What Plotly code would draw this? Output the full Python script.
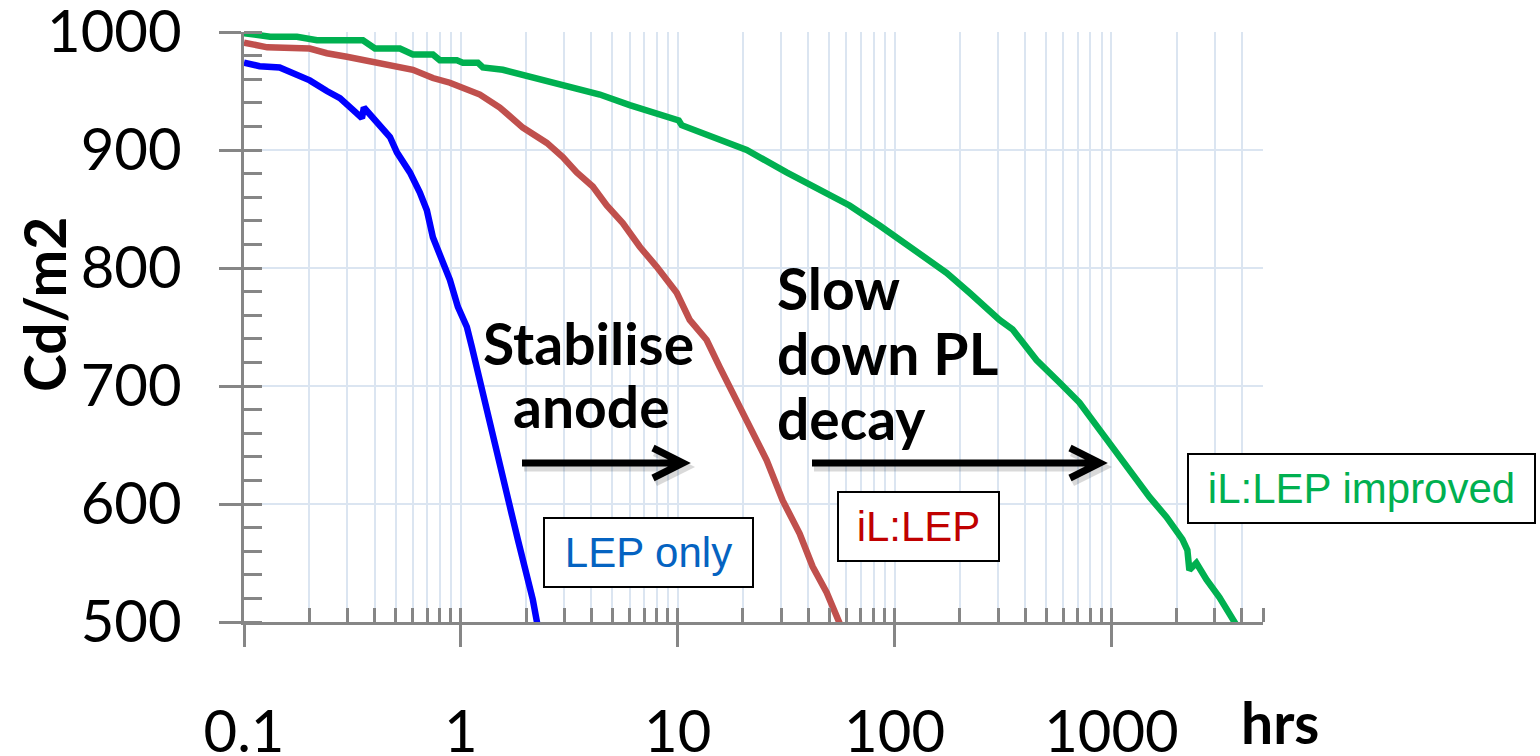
import plotly.graph_objects as go

# ---------------- data ----------------
lep_x = [0.1, 0.118, 0.146, 0.168, 0.201, 0.241, 0.277, 0.318, 0.350, 0.357, 0.393, 0.471,
         0.507, 0.582, 0.647, 0.697, 0.743, 0.826, 0.890, 0.969, 1.066, 1.124, 1.185, 1.250,
         1.361, 1.466, 1.562, 1.682, 1.831, 2.015, 2.147, 2.264]
lep_y = [974, 971, 970, 965, 959, 950, 944, 934, 927, 936, 927, 911,
         898, 881, 864, 849, 826, 804, 790, 767, 750, 733, 716, 694,
         671, 648, 626, 598, 570, 542, 519, 496]

il_x = [0.1, 0.128, 0.201, 0.241, 0.298, 0.354, 0.601, 0.743, 0.890, 1.224, 1.512, 1.931,
        2.491, 2.951, 3.423, 4.058, 4.708, 5.579, 6.683, 8.002, 9.894, 11.36, 13.60, 15.62,
        17.93, 21.47, 25.72, 30.47, 36.49, 41.89, 48.62, 55.79]
il_y = [991, 987, 986, 982, 979, 976, 968, 961, 957, 947, 936, 919,
        906, 894, 881, 869, 853, 838, 818, 801, 779, 756, 739, 716,
        694, 665, 637, 603, 575, 547, 525, 499]

imp_x = [0.1, 0.1185, 0.132, 0.1755, 0.217, 0.3535, 0.4016, 0.5236, 0.6008, 0.743, 0.800,
         0.9585, 1.021, 1.198, 1.263, 1.562, 1.812, 2.147, 2.572, 3.080, 4.372, 6.008,
         10.11, 10.43, 20.80, 31.78, 48.62, 62.03, 85.29, 130.4, 173.6, 221.6, 304.8,
         349.8, 451.3, 576.0, 712.0, 880.5, 1054, 1250, 1497, 1793, 2125, 2240, 2288,
         2465, 2741, 3147, 3612, 3808]
imp_y = [999, 997.5, 996, 996, 993, 993, 986, 986, 981, 981, 976,
         976, 974, 974, 970, 968, 965, 961, 957, 953, 947, 938,
         925, 921, 900, 881, 864, 853, 836, 813, 796, 779, 756,
         748, 722, 703, 686, 663, 643, 626, 606, 589, 570, 561, 544,
         550, 536, 521, 504, 496]

x_major = [0.1, 1, 10, 100, 1000]
x_major_text = ["0.1", "1", "10", "100", "1000"]
x_minor = [m * d for d in (0.1, 1, 10, 100, 1000) for m in range(2, 10) if m * d <= 5000]
y_major = [500, 600, 700, 800, 900, 1000]

series_names = ["LEP only", "iL:LEP", "iL:LEP improved"]
series_colors = ["#0000ff", "#c0504d", "#00b050"]
label_colors = ["#0563c1", "#c00000", "#00b050"]

# ---------------- layout geometry ----------------
W, H = 1540, 756
L, R, T, B = 244, 1263, 32, 622


def px(xp):
    return (xp - L) / (R - L)


def py(yp):
    return (B - yp) / (B - T)


AX = "#868686"
GRID = "#dbe5f1"
TICKFONT = dict(family="Lato, Carlito, sans-serif", size=58, color="black")

fig = go.Figure()
for xs, ys, name, col in zip([lep_x, il_x, imp_x], [lep_y, il_y, imp_y], series_names, series_colors):
    fig.add_trace(go.Scatter(x=xs, y=ys, mode="lines", name=name,
                             line=dict(color=col, width=6.5), showlegend=False))

# empty trace to bind overlay axes (for crossing major ticks)
fig.add_trace(go.Scatter(x=[], y=[], xaxis="x2", yaxis="y2", showlegend=False, hoverinfo="skip"))

fig.update_layout(
    width=W, height=H,
    margin=dict(l=L, r=W - R, t=T, b=H - B, autoexpand=False),
    paper_bgcolor="white", plot_bgcolor="white",
    xaxis=dict(
        type="log", range=[-1, 3.69897], automargin=False,
        tickvals=x_major, ticktext=x_major_text,
        ticks="outside", ticklen=22, tickwidth=2.5, tickcolor=AX,
        showline=True, linecolor=AX, linewidth=2.5,
        showgrid=True, gridcolor=GRID, gridwidth=2,
        zeroline=False, tickfont=TICKFONT, ticklabelstandoff=36,
        ticklabeloverflow="allow",
        minor=dict(tickvals=x_minor, ticks="inside", ticklen=14, tickwidth=2.5,
                   tickcolor=AX, showgrid=True, gridcolor=GRID, gridwidth=2),
    ),
    yaxis=dict(
        range=[500, 1000], tickvals=y_major, automargin=False,
        ticks="outside", ticklen=22, tickwidth=2.5, tickcolor=AX,
        showline=True, linecolor=AX, linewidth=2.5,
        showgrid=True, gridcolor=GRID, gridwidth=2,
        zeroline=False, tickfont=TICKFONT, ticklabelstandoff=26,
        ticklabeloverflow="allow",
        minor=dict(dtick=20, ticks="inside", ticklen=18, tickwidth=2.5,
                   tickcolor=AX, showgrid=False),
    ),
    xaxis2=dict(type="log", range=[-1, 3.69897], overlaying="x", anchor="y", automargin=False,
                tickvals=x_major, ticks="inside", ticklen=14, tickwidth=2.5, tickcolor=AX,
                showticklabels=False, showgrid=False, showline=False, zeroline=False),
    yaxis2=dict(range=[500, 1000], overlaying="y", anchor="x", side="left", automargin=False,
                tickvals=y_major, ticks="inside", ticklen=18, tickwidth=2.5, tickcolor=AX,
                showticklabels=False, showgrid=False, showline=False, zeroline=False),
)

ann = []
BOLD = dict(family="Lato, Carlito, sans-serif", size=57, color="black")
# axis titles
ann.append(dict(x=px(44), y=py(305), xref="paper", yref="paper", text="<b>Cd/m2</b>",
                textangle=-90, showarrow=False, font=BOLD, xanchor="center", yanchor="middle"))
ann.append(dict(x=px(1280), y=py(722), xref="paper", yref="paper", text="<b>hrs</b>",
                showarrow=False, font=BOLD, xanchor="center", yanchor="middle"))

# annotation text lines
for txt, xc, yc, xa in [("Stabilise", 588, 343, "center"), ("anode", 591, 406, "center"),
                        ("Slow", 775, 288, "left"), ("down PL", 775, 353, "left"),
                        ("decay", 775, 418, "left")]:
    ann.append(dict(x=px(xc), y=py(yc), xref="paper", yref="paper", text=f"<b>{txt}</b>",
                    showarrow=False, font=BOLD, xanchor=xa, yanchor="middle"))

# boxed series labels
for name, col, (x0, x1, y0, y1) in zip(series_names, label_colors,
                                        [(543, 754, 517, 588), (837, 1000, 491, 562),
                                         (1187, 1536, 453, 524)]):
    ann.append(dict(x=px((x0 + x1) / 2), y=py((y0 + y1) / 2), xref="paper", yref="paper",
                    text=name, showarrow=False,
                    font=dict(family="Liberation Sans, Arial, sans-serif", size=42, color=col),
                    bordercolor="black", borderwidth=2, borderpad=0, bgcolor="white",
                    width=(x1 - x0) - 4, height=(y1 - y0) - 4,
                    xanchor="center", yanchor="middle", align="center", valign="middle"))
fig.update_layout(annotations=ann)

# arrows (shapes in paper coords)
shapes = []
for (xs, xe) in [(522, 683), (812, 1100)]:
    for dx, dy, col, w in [(2, 4, "rgba(0,0,0,0.15)", 9), (0, 0, "black", 7)]:
        p = (f"M {px(xs+dx)},{py(463+dy)} L {px(xe-2+dx)},{py(463+dy)} "
             f"M {px(xe-30+dx)},{py(448+dy)} L {px(xe+dx)},{py(463+dy)} L {px(xe-30+dx)},{py(478+dy)}")
        shapes.append(dict(type="path", path=p, xref="paper", yref="paper",
                           line=dict(color=col, width=w), layer="above"))
fig.update_layout(shapes=shapes)

fig.write_html("out.html")
